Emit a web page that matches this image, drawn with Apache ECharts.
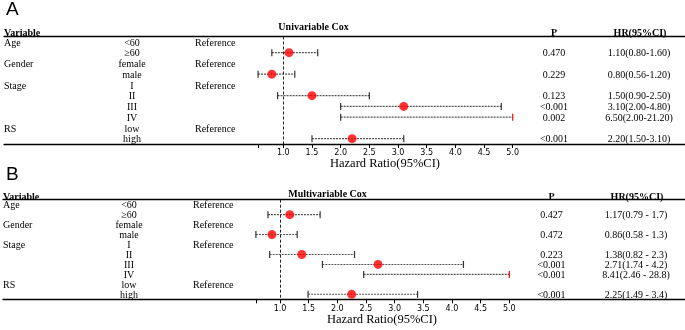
<!DOCTYPE html>
<html>
<head>
    <meta charset="utf-8">
    <title>Cox forest plot</title>
</head>
<body style="margin: 0">
    <div id="container" style="width:685px;height:330px"></div>
    <script src="https://cdn.jsdelivr.net/npm/echarts@6/dist/echarts.min.js"></script>
    <script>
    // table rows (same for both panels)
    const rowVariable = ['Age', '', 'Gender', '', 'Stage', '', '', '', 'RS', ''];
    const rowSubgroup = ['<60', '≥60', 'female', 'male', 'I', 'II', 'III', 'IV', 'low', 'high'];
    const rowRef = ['Reference', '', 'Reference', '', 'Reference', '', '', '', 'Reference', ''];

    // univariable cox
    const uniHR = [null, 1.10, null, 0.80, null, 1.50, 3.10, 6.50, null, 2.20];
    const uniLow = [null, 0.80, null, 0.56, null, 0.90, 2.00, 2.00, null, 1.50];
    const uniHigh = [null, 1.60, null, 1.20, null, 2.50, 4.80, 21.20, null, 3.10];
    const uniP = ['', '0.470', '', '0.229', '', '0.123', '<0.001', '0.002', '', '<0.001'];
    const uniLabel = ['', '1.10(0.80-1.60)', '', '0.80(0.56-1.20)', '', '1.50(0.90-2.50)',
        '3.10(2.00-4.80)', '6.50(2.00-21.20)', '', '2.20(1.50-3.10)'];

    // multivariable cox
    const multiHR = [null, 1.17, null, 0.86, null, 1.38, 2.71, 8.41, null, 2.25];
    const multiLow = [null, 0.79, null, 0.58, null, 0.82, 1.74, 2.46, null, 1.49];
    const multiHigh = [null, 1.7, null, 1.3, null, 2.3, 4.2, 28.8, null, 3.4];
    const multiP = ['', '0.427', '', '0.472', '', '0.223', '<0.001', '<0.001', '', '<0.001'];
    const multiLabel = ['', '1.17(0.79 - 1.7)', '', '0.86(0.58 - 1.3)', '', '1.38(0.82 - 2.3)',
        '2.71(1.74 - 4.2)', '8.41(2.46 - 28.8)', '', '2.25(1.49 - 3.4)'];

    // x axis ticks, plot is cut at CLIP_MAX
    const tickValues = [1.0, 1.5, 2.0, 2.5, 3.0, 3.5, 4.0, 4.5, 5.0];
    const CLIP_MAX = 5.0;

    const SERIF = '"Liberation Serif", "Times New Roman", serif';
    const SANS = '"DejaVu Sans", sans-serif';

    var dom = document.getElementById('container');
    var myChart = echarts.init(dom, null, { renderer: 'canvas' });

    // panel layout (pixels)
    const panels = [
        { hr: uniHR, low: uniLow, high: uniHigh, p: uniP, label: uniLabel,
          top: 36.5, height: 107.5, left: 4, xMin: -3.870, xMax: 8.004,
          varX: 4, subX: 132, refX: 195, pX: 554, hrX: 639, labelMargin: 5 },
        { hr: multiHR, low: multiLow, high: multiHigh, p: multiP, label: multiLabel,
          top: 199.7, height: 99.6, left: 3, xMin: -3.832, xMax: 8.065,
          varX: 3, subX: 129, refX: 193, pX: 551.5, hrX: 636, labelMargin: 6 }
    ];

    let grids = [], xAxes = [], yAxes = [], series = [];

    panels.forEach(function (pn, k) {
        grids.push({ left: pn.left, right: 0, top: pn.top, height: pn.height });

        let lows = pn.low.filter(v => v != null);
        let firstTick = Math.min.apply(null, lows);

        // bottom axis
        xAxes.push({
            type: 'value', gridIndex: k, position: 'bottom',
            min: pn.xMin, max: pn.xMax,
            splitLine: { show: false },
            axisLine: { show: true, onZero: false, lineStyle: { color: '#000', width: 1.3 } },
            axisTick: {
                show: true, inside: false, length: 4,
                customValues: [firstTick].concat(tickValues),
                lineStyle: { color: '#000', width: 1 }
            },
            axisLabel: {
                show: true, margin: pn.labelMargin,
                customValues: tickValues,
                formatter: v => v.toFixed(1),
                fontFamily: SANS, fontSize: 8, color: '#000'
            }
        });
        // top border line
        xAxes.push({
            type: 'value', gridIndex: k, position: 'top',
            min: pn.xMin, max: pn.xMax,
            splitLine: { show: false },
            axisLine: { show: true, onZero: false, lineStyle: { color: '#000', width: 1.3 } },
            axisTick: { show: false },
            axisLabel: { show: false }
        });
        yAxes.push({
            type: 'value', gridIndex: k, inverse: true,
            min: -0.5, max: 9.5, show: false
        });

        // confidence intervals
        let ciData = [];
        pn.hr.forEach(function (v, i) {
            if (v == null) return;
            let hi = pn.high[i];
            ciData.push([pn.low[i], Math.min(hi, CLIP_MAX), i, hi > CLIP_MAX ? 1 : 0]);
        });
        series.push({
            type: 'custom',
            xAxisIndex: k * 2, yAxisIndex: k,
            data: ciData,
            silent: true,
            z: 3,
            renderItem: function (params, api) {
                let s = api.coord([api.value(0), api.value(2)]);
                let e = api.coord([api.value(1), api.value(2)]);
                let clipped = api.value(3) === 1;
                return {
                    type: 'group',
                    children: [
                        { type: 'line', shape: { x1: s[0], y1: s[1], x2: e[0], y2: e[1] },
                          style: { stroke: '#555', lineWidth: 1.1, lineDash: [2, 1] } },
                        { type: 'line', shape: { x1: s[0], y1: s[1] - 3.5, x2: s[0], y2: s[1] + 3.5 },
                          style: { stroke: '#333', lineWidth: 1.2 } },
                        { type: 'line', shape: { x1: e[0], y1: e[1] - 3.5, x2: e[0], y2: e[1] + 3.5 },
                          style: { stroke: clipped ? '#ff0000' : '#333', lineWidth: 1.2 } }
                    ]
                };
            }
        });

        // point estimates (off-scale ones are not drawn)
        let dots = [];
        pn.hr.forEach(function (v, i) {
            if (v != null && v <= CLIP_MAX) dots.push([v, i]);
        });
        series.push({
            type: 'scatter',
            xAxisIndex: k * 2, yAxisIndex: k,
            data: dots,
            symbol: 'circle', symbolSize: 9,
            itemStyle: { color: '#ff0000' },
            silent: true,
            z: 5,
            markLine: {
                silent: true, symbol: 'none',
                label: { show: false },
                lineStyle: { color: '#222', width: 1, type: [3, 2] },
                data: [{ xAxis: 1 }]
            }
        });

        // table text
        series.push({
            type: 'custom',
            xAxisIndex: k * 2, yAxisIndex: k,
            data: rowSubgroup.map((_, i) => [0, i]),
            silent: true,
            renderItem: function (params, api) {
                let i = api.value(1);
                let y = api.coord([0, i])[1] + 1;
                let font = '10px ' + SERIF;
                let txt = function (text, x, align) {
                    return { type: 'text', x: x, y: y,
                             style: { text: text, fill: '#000', font: font, align: align, verticalAlign: 'middle' } };
                };
                return {
                    type: 'group',
                    children: [
                        txt(rowVariable[i], pn.varX, 'left'),
                        txt(rowSubgroup[i], pn.subX, 'center'),
                        txt(rowRef[i], pn.refX, 'left'),
                        txt(pn.p[i], pn.pX, 'center'),
                        txt(pn.label[i], pn.hrX, 'center')
                    ]
                };
            }
        });
    });

    const headFont = 'bold 10px ' + SERIF;
    function headText(text, x, y, align, font) {
        return { type: 'text', x: x, y: y,
                 style: { text: text, fill: '#000', font: font || headFont, align: align, verticalAlign: 'middle' } };
    }

    let option = {
        animation: false,
        backgroundColor: '#fff',
        grid: grids,
        xAxis: xAxes,
        yAxis: yAxes,
        series: series,
        graphic: [
            headText('A', 6, 10, 'left', '19px "Liberation Sans", Arial, sans-serif'),
            headText('Univariable Cox', 313.5, 27, 'center'),
            headText('Variable', 4, 33, 'left'),
            headText('P', 554, 33, 'center'),
            headText('HR(95%CI)', 640, 33, 'center'),
            headText('Hazard Ratio(95%CI)', 385, 164, 'center', '12.5px ' + SERIF),

            headText('B', 6, 175, 'left', '19px "Liberation Sans", Arial, sans-serif'),
            headText('Multivariable Cox', 327.5, 194, 'center'),
            headText('Variable', 3, 197, 'left'),
            headText('P', 551.5, 197, 'center'),
            headText('HR(95%CI)', 637, 197, 'center'),
            headText('Hazard Ratio(95%CI)', 382, 320, 'center', '12.5px ' + SERIF)
        ]
    };

    myChart.setOption(option);
    window.addEventListener('resize', myChart.resize);
    </script>
</body>
</html>
